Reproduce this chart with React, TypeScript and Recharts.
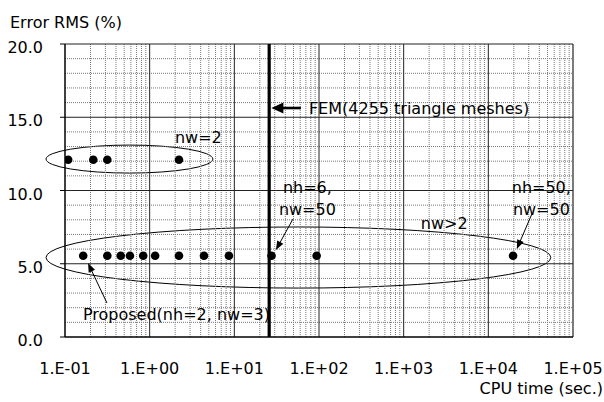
import React from 'react';
import {
  ScatterChart,
  Scatter,
  XAxis,
  YAxis,
  ReferenceLine,
  ReferenceDot,
  ReferenceArea,
} from 'recharts';

const FONT = '"DejaVu Sans", sans-serif';

// Axis ticks
const xTicks = [0.1, 1, 10, 100, 1000, 10000, 100000];
const xTickLabels = ['1.E-01', '1.E+00', '1.E+01', '1.E+02', '1.E+03', '1.E+04', '1.E+05'];
const yTicks = [0, 5, 10, 15, 20];
const yTickLabels = ['0.0', '5.0', '10.0', '15.0', '20.0'];

// Grid
const yMinorGrid = [1, 2, 3, 4, 6, 7, 8, 9, 11, 12, 13, 14, 16, 17, 18, 19];
const yMajorGrid = [5, 10, 15];
const decades = [0.1, 1, 10, 100, 1000, 10000];
const minorMultipliers = [2, 3, 4, 5, 6, 7, 8, 9];
const xMajorGrid = [1, 10, 100, 1000, 10000];

// Series: nw = 2
const nw2Time = [0.109, 0.216, 0.316, 2.22];
const nw2Error = [12.1, 12.1, 12.1, 12.1];

// Series: nw > 2
const nwGt2Time = [0.164, 0.316, 0.455, 0.585, 0.839, 1.16, 2.22, 4.38, 8.63, 27.5, 93.8, 19600];
const nwGt2Error = [5.55, 5.55, 5.55, 5.55, 5.55, 5.55, 5.55, 5.55, 5.55, 5.55, 5.55, 5.55];

// FEM reference CPU time
const femTime = 25.8;

// Annotation ellipses (data bounds)
const groupEllipses = [
  { x1: 0.0597, x2: 5.58, y1: 11.19, y2: 13.1 },
  { x1: 0.0597, x2: 54700, y1: 3.34, y2: 7.51 },
];

// Annotation texts (left/baseline anchor in data coords)
const annotationTexts = [
  { text: 'FEM(4255 triangle meshes)', x: 76.0, y: 15.22 },
  { text: 'nw=2', x: 1.99, y: 13.24 },
  { text: 'nh=6,', x: 37.5, y: 9.83 },
  { text: 'nw=50', x: 33.6, y: 8.33 },
  { text: 'nh=50,', x: 18900, y: 9.83 },
  { text: 'nw=50', x: 19500, y: 8.33 },
  { text: 'nw>2', x: 1596, y: 7.37 },
  { text: 'Proposed(nh=2, nw=3)', x: 0.163, y: 1.16 },
];

// Annotation arrows (tail -> tip in data coords)
const annotationArrows = [
  { from: { x: 61.1, y: 15.63 }, to: { x: 27.4, y: 15.63 }, thick: true },
  { from: { x: 49.2, y: 8.05 }, to: { x: 31.0, y: 5.94 }, thick: false },
  { from: { x: 32700, y: 8.4 }, to: { x: 21700, y: 6.01 }, thick: false },
  { from: { x: 0.313, y: 2.32 }, to: { x: 0.187, y: 5.05 }, thick: false },
];

const nw2Data = nw2Time.map((t, i) => ({ x: t, y: nw2Error[i] }));
const nwGt2Data = nwGt2Time.map((t, i) => ({ x: t, y: nwGt2Error[i] }));
const xMinorGrid = decades.flatMap((d) => minorMultipliers.map((m) => +(d * m).toPrecision(3)));

const dot = (p: any) => <circle cx={p.cx} cy={p.cy} r={4.3} fill="#000" />;

const makeArrow = (thick: boolean) => (p: any) => {
  const { x1, y1, x2, y2 } = p;
  const dx = x2 - x1;
  const dy = y2 - y1;
  const len = Math.sqrt(dx * dx + dy * dy) || 1;
  const ux = dx / len;
  const uy = dy / len;
  const headLen = thick ? 12 : 9;
  const headW = thick ? 5.5 : 3.5;
  const bx = x2 - ux * headLen;
  const by = y2 - uy * headLen;
  const px = -uy;
  const py = ux;
  return (
    <g>
      <line x1={x1} y1={y1} x2={bx + ux * 2} y2={by + uy * 2} stroke="#000" strokeWidth={thick ? 2.6 : 1} />
      <polygon
        points={`${x2},${y2} ${bx + px * headW},${by + py * headW} ${bx - px * headW},${by - py * headW}`}
        fill="#000"
      />
    </g>
  );
};

const XTick = (p: any) => {
  const idx = xTicks.indexOf(p.payload.value);
  return (
    <text x={p.x} y={p.y} dy={35} textAnchor="middle" fontFamily={FONT} fontSize={16} fill="#000">
      {idx >= 0 ? xTickLabels[idx] : ''}
    </text>
  );
};

const YTick = (p: any) => {
  const idx = yTicks.indexOf(p.payload.value);
  return (
    <text x={p.x} y={p.y} dx={-15} dy={9} textAnchor="end" fontFamily={FONT} fontSize={16} fill="#000">
      {idx >= 0 ? yTickLabels[idx] : ''}
    </text>
  );
};

export default function App() {
  return (
    <div style={{ position: 'absolute', left: 0, top: 0, width: 604, height: 402, background: '#fff' }}>
      <ScatterChart width={604} height={402} margin={{ top: 44, right: 31, bottom: 0, left: 0 }}>
        <XAxis
          type="number"
          dataKey="x"
          scale="log"
          domain={[0.1, 100000]}
          ticks={xTicks}
          allowDataOverflow
          height={65}
          axisLine={{ stroke: '#000', strokeWidth: 1.5 }}
          tickLine={false}
          tickSize={0}
          tick={<XTick />}
          label={{
            content: () => (
              <text x={603} y={394} textAnchor="end" fontFamily={FONT} fontSize={16} fill="#000">
                CPU time (sec.)
              </text>
            ),
          }}
        />
        <YAxis
          type="number"
          dataKey="y"
          domain={[0, 20]}
          ticks={yTicks}
          allowDataOverflow
          width={65}
          axisLine={{ stroke: '#000', strokeWidth: 1.5 }}
          tickLine={{ stroke: '#000' }}
          tickSize={5}
          tick={<YTick />}
          label={{
            content: () => (
              <text x={10} y={28} textAnchor="start" fontFamily={FONT} fontSize={16} fill="#000">
                Error RMS (%)
              </text>
            ),
          }}
        />

        {yMinorGrid.map((v) => (
          <ReferenceLine key={`ym${v}`} y={v} stroke="#777" strokeDasharray="1 1" strokeWidth={1} />
        ))}
        {xMinorGrid.map((v) => (
          <ReferenceLine key={`xm${v}`} x={v} stroke="#777" strokeDasharray="1 1" strokeWidth={1} />
        ))}
        {yMajorGrid.map((v) => (
          <ReferenceLine key={`yM${v}`} y={v} stroke="#222" strokeWidth={1} />
        ))}
        {xMajorGrid.map((v) => (
          <ReferenceLine key={`xM${v}`} x={v} stroke="#222" strokeWidth={1} />
        ))}
        <ReferenceLine y={20} stroke="#222" strokeWidth={1.2} />
        <ReferenceLine x={100000} stroke="#222" strokeWidth={1.2} />

        <ReferenceLine x={femTime} stroke="#000" strokeWidth={3.2} />

        {groupEllipses.map((e, i) => (
          <ReferenceArea
            key={`el${i}`}
            x1={e.x1}
            x2={e.x2}
            y1={e.y1}
            y2={e.y2}
            ifOverflow="visible"
            shape={(p: any) => (
              <ellipse
                cx={p.x + p.width / 2}
                cy={p.y + p.height / 2}
                rx={Math.abs(p.width) / 2}
                ry={Math.abs(p.height) / 2}
                fill="none"
                stroke="#000"
                strokeWidth={1}
              />
            )}
          />
        ))}

        <Scatter data={nw2Data} isAnimationActive={false} shape={dot} />
        <Scatter data={nwGt2Data} isAnimationActive={false} shape={dot} />

        {annotationArrows.map((a, i) => (
          <ReferenceLine
            key={`ar${i}`}
            segment={[a.from, a.to]}
            ifOverflow="visible"
            shape={makeArrow(a.thick)}
          />
        ))}

        {annotationTexts.map((t, i) => (
          <ReferenceDot
            key={`tx${i}`}
            x={t.x}
            y={t.y}
            r={0}
            ifOverflow="visible"
            shape={(p: any) => (
              <text x={p.cx} y={p.cy} textAnchor="start" fontFamily={FONT} fontSize={16} fill="#000">
                {t.text}
              </text>
            )}
          />
        ))}
      </ScatterChart>
    </div>
  );
}
